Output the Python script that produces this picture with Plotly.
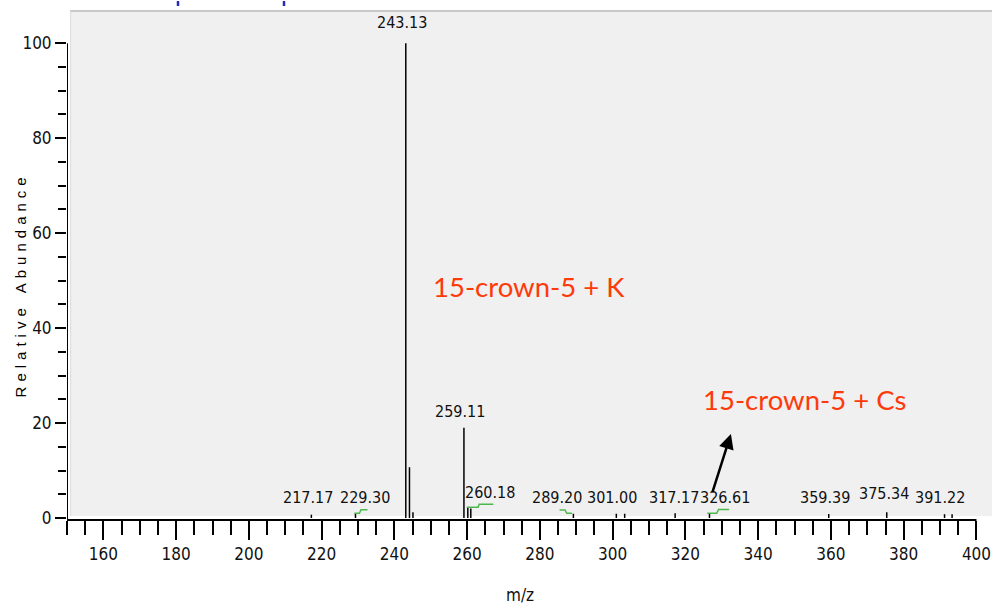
import plotly.graph_objects as go

# ---------------- data ----------------
peak_mz = [217.17, 229.30, 243.13, 244.14, 245.10, 259.11, 260.18, 261.00,
           289.20, 301.00, 303.30, 317.17, 326.61, 359.39, 375.34, 391.22, 393.30]
peak_int = [0.7, 1.0, 100.0, 10.7, 1.2, 19.0, 2.2, 2.0,
            0.9, 0.9, 0.9, 1.0, 1.0, 0.85, 1.2, 0.8, 0.8]

label_text = ["243.13", "259.11", "217.17", "229.30", "260.18", "289.20", "301.00",
              "317.17", "326.61", "359.39", "375.34", "391.22"]
label_mz = [242.1, 258.1, 216.3, 232.0, 266.3, 284.6, 299.9, 316.9, 331.0, 358.3, 374.6, 390.0]
label_y = [104.3, 22.5, 4.3, 4.3, 5.3, 4.3, 4.3, 4.3, 4.3, 4.3, 5.1, 4.3]

# green baseline markers (step segments)
green_x = [[229.0, 230.4, 230.8, 232.6],
           [259.9, 263.0, 263.3, 267.2],
           [285.4, 286.9, 287.4, 288.8],
           [326.0, 328.6, 329.1, 332.0]]
green_y = [[1.0, 1.0, 1.75, 1.75],
           [2.25, 2.25, 2.9, 2.9],
           [1.7, 1.7, 1.0, 1.0],
           [1.0, 1.0, 1.8, 1.8]]

x_major = list(range(160, 401, 20))
x_minor = [v for v in range(150, 401, 5) if v not in x_major]
y_major = list(range(0, 101, 20))
y_minor = [v for v in range(0, 101, 5) if v not in y_major]

ann_k = ("15-crown-5 + K", 277.0, 48.7)
ann_cs = ("15-crown-5 + Cs", 352.9, 24.9)
arrow_tip = (332.5, 17.7)

# ---------------- figure ----------------
NARROW = "Liberation Sans Narrow, Arial Narrow, DejaVu Sans Condensed, sans-serif"
fig = go.Figure()

sx, sy = [], []
for m, h in zip(peak_mz, peak_int):
    sx += [m, m, None]
    sy += [0, h, None]
fig.add_trace(go.Scatter(x=sx, y=sy, mode="lines",
                         line=dict(color="black", width=1.5),
                         hoverinfo="skip", showlegend=False))

for gx, gy in zip(green_x, green_y):
    fig.add_trace(go.Scatter(x=gx, y=gy, mode="lines",
                             line=dict(color="#4cb84c", width=1.5),
                             hoverinfo="skip", showlegend=False))

annotations = []
for t, lx, ly in zip(label_text, label_mz, label_y):
    annotations.append(dict(x=lx, y=ly, text=t, showarrow=False,
                            xanchor="center", yanchor="middle",
                            font=dict(family=NARROW, size=16, color="#111")))

for t, ax_, ay_ in (ann_k, ann_cs):
    annotations.append(dict(x=ax_, y=ay_, text=t, showarrow=False,
                            xanchor="center", yanchor="middle",
                            font=dict(family="Lato, Open Sans, sans-serif", size=27.5,
                                      color="#ff3a0a")))

annotations.append(dict(x=arrow_tip[0], y=arrow_tip[1], text="", showarrow=True,
                        ax=-19, ay=60, arrowhead=2, arrowsize=1.2, arrowwidth=2.5,
                        arrowcolor="black"))

ytitle = "\u2004".join("Relative Abundance").replace("\u2004 \u2004", "\u2004\u2004\u2004")
annotations.append(dict(xref="paper", yref="paper", x=-0.0508, y=0.456, text=ytitle,
                        textangle=-90, showarrow=False, xanchor="center", yanchor="middle",
                        font=dict(family="Liberation Sans, Arial, sans-serif", size=15,
                                  color="#000")))
annotations.append(dict(xref="paper", yref="paper", x=0.4897, y=-0.147, text="m/z",
                        showarrow=False, xanchor="center", yanchor="middle",
                        font=dict(family=NARROW, size=17, color="#111")))

shapes = [
    # gray frame background
    dict(type="rect", xref="paper", yref="paper", x0=0.0032, x1=1.0, y0=0.0078, y1=0.998,
         fillcolor="#f0f0f0", line=dict(width=0), layer="below"),
    dict(type="line", xref="paper", yref="paper", x0=0.0032, x1=1.0, y0=0.998, y1=0.998,
         line=dict(color="#c8c8c8", width=2), layer="below"),
    dict(type="line", xref="paper", yref="paper", x0=0.0040, x1=0.0040, y0=0.0078, y1=0.998,
         line=dict(color="#dcdcdc", width=1), layer="below"),
    # axis lines
    dict(type="line", xref="x", yref="paper", x0=150, x1=400, y0=0, y1=0,
         line=dict(color="black", width=2)),
    dict(type="line", xref="x", yref="y", x0=150, x1=150, y0=-0.42, y1=100,
         line=dict(color="black", width=2)),
    # small blue marks at top
    dict(type="line", xref="paper", yref="paper", x0=0.120, x1=0.120, y0=1.0078, y1=1.0176,
         line=dict(color="#2a2ab8", width=2.5)),
    dict(type="line", xref="paper", yref="paper", x0=0.2346, x1=0.2346, y0=1.0078, y1=1.0176,
         line=dict(color="#2a2ab8", width=2.5)),
]

fig.update_layout(
    width=992, height=607,
    margin=dict(l=67, r=0, t=10, b=87),
    paper_bgcolor="white", plot_bgcolor="rgba(0,0,0,0)",
    showlegend=False,
    annotations=annotations, shapes=shapes,
    xaxis=dict(range=[150, 404.27], showgrid=False, zeroline=False, showline=False,
               tickmode="array", tickvals=x_major, ticktext=[str(v) for v in x_major],
               ticks="outside", ticklen=19, tickwidth=2, tickcolor="black",
               tickfont=dict(family=NARROW, size=17, color="#111"),
               minor=dict(tickmode="array", tickvals=x_minor, ticks="outside",
                          ticklen=14, tickwidth=2, tickcolor="black", showgrid=False)),
    yaxis=dict(range=[-0.42, 107.0], showgrid=False, zeroline=False, showline=False,
               tickmode="array", tickvals=y_major, ticktext=[str(v) for v in y_major],
               ticks="outside", ticklen=11, tickwidth=2, tickcolor="black",
               tickfont=dict(family=NARROW, size=17, color="#111"),
               minor=dict(tickmode="array", tickvals=y_minor, ticks="outside",
                          ticklen=8, tickwidth=2, tickcolor="black", showgrid=False)),
)

fig.write_html("out.html", config={"displayModeBar": False},
               post_script="document.body.style.margin='0px';"
                           "document.body.style.overflow='hidden';")
